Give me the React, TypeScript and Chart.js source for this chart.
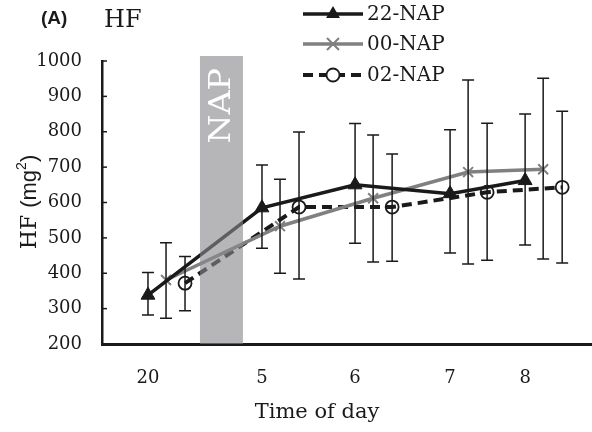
import { useEffect, useRef } from 'react';
import { Chart, registerables } from 'chart.js';

Chart.register(...registerables);

// ---- data ----
const timeLabels = ['20', '5', '6', '7', '8'];
const timePositions = [0, 1.2, 2.18, 3.18, 3.97];
const seriesNames = ['22-NAP', '00-NAP', '02-NAP'];
const seriesOffsets = [0, 0.19, 0.39];

const nap22Mean = [338, 585, 650, 625, 662];
const nap22Upper = [402, 706, 823, 806, 850];
const nap22Lower = [282, 471, 485, 457, 480];

const nap00Mean = [381, 533, 612, 686, 694];
const nap00Upper = [486, 666, 791, 946, 951];
const nap00Lower = [273, 400, 432, 426, 440];

const nap02Mean = [372, 587, 587, 629, 643];
const nap02Upper = [447, 799, 737, 824, 858];
const nap02Lower = [294, 384, 434, 437, 429];

const napWindow = [0.547, 1.0];
const yMin = 200;
const yMax = 1000;
const yStep = 100;

const SERIF = '"DejaVu Serif", "Liberation Serif", serif';
const SANS = '"Liberation Sans", Arial, sans-serif';
const INK = '#1a1a1a';
const GREY = '#808080';

const means = [nap22Mean, nap00Mean, nap02Mean];
const uppers = [nap22Upper, nap00Upper, nap02Upper];
const lowers = [nap22Lower, nap00Lower, nap02Lower];

function drawMarker(ctx: CanvasRenderingContext2D, kind: number, cx: number, cy: number) {
  ctx.save();
  ctx.setLineDash([]);
  if (kind === 0) {
    const r = 8;
    ctx.fillStyle = INK;
    ctx.beginPath();
    ctx.moveTo(cx, cy - r);
    ctx.lineTo(cx + r * 0.87, cy + r * 0.5);
    ctx.lineTo(cx - r * 0.87, cy + r * 0.5);
    ctx.closePath();
    ctx.fill();
  } else if (kind === 1) {
    const r = 6;
    ctx.strokeStyle = GREY;
    ctx.lineWidth = 2;
    ctx.beginPath();
    ctx.moveTo(cx - r, cy - r);
    ctx.lineTo(cx + r, cy + r);
    ctx.moveTo(cx - r, cy + r);
    ctx.lineTo(cx + r, cy - r);
    ctx.stroke();
  } else {
    ctx.strokeStyle = INK;
    ctx.lineWidth = 1.8;
    ctx.fillStyle = '#fff';
    ctx.beginPath();
    ctx.arc(cx, cy, 6.5, 0, Math.PI * 2);
    ctx.fill();
    ctx.stroke();
  }
  ctx.restore();
}

const overlayPlugin = {
  id: 'overlay',
  afterDatasetsDraw(chart: any) {
    const { ctx, chartArea, scales } = chart;
    const x = scales.x;
    const y = scales.y;
    ctx.save();
    // error bars
    ctx.strokeStyle = INK;
    ctx.lineWidth = 1.5;
    for (let s = 0; s < 3; s++) {
      for (let i = 0; i < timePositions.length; i++) {
        const px = x.getPixelForValue(timePositions[i] + seriesOffsets[s]);
        const pu = y.getPixelForValue(uppers[s][i]);
        const pl = y.getPixelForValue(lowers[s][i]);
        ctx.beginPath();
        ctx.moveTo(px, pu);
        ctx.lineTo(px, pl);
        ctx.moveTo(px - 6, pu);
        ctx.lineTo(px + 6, pu);
        ctx.moveTo(px - 6, pl);
        ctx.lineTo(px + 6, pl);
        ctx.stroke();
      }
    }
    // y tick marks (inside)
    ctx.lineWidth = 1.5;
    for (let v = yMin; v <= yMax; v += yStep) {
      const py = y.getPixelForValue(v);
      ctx.beginPath();
      ctx.moveTo(chartArea.left, py);
      ctx.lineTo(chartArea.left + 5, py);
      ctx.stroke();
    }
    // NAP band
    const bx0 = x.getPixelForValue(napWindow[0]);
    const bx1 = x.getPixelForValue(napWindow[1]);
    ctx.fillStyle = 'rgba(137,137,142,0.62)';
    ctx.fillRect(bx0, chartArea.top - 5, bx1 - bx0, chartArea.bottom - chartArea.top + 5);
    ctx.translate((bx0 + bx1) / 2, chartArea.top + 7);
    ctx.rotate(-Math.PI / 2);
    ctx.scale(1.15, 1);
    ctx.fillStyle = '#ffffff';
    ctx.font = '29px ' + SERIF;
    ctx.textAlign = 'right';
    ctx.textBaseline = 'middle';
    ctx.fillText('NAP', 0, 1);
    ctx.restore();
  },
  afterDraw(chart: any) {
    const { ctx } = chart;
    ctx.save();
    // panel label & title
    ctx.fillStyle = INK;
    ctx.textBaseline = 'middle';
    ctx.textAlign = 'left';
    ctx.font = 'bold 19px ' + SANS;
    ctx.fillText('(A)', 41, 19);
    ctx.font = '24px ' + SERIF;
    ctx.fillText('HF', 104, 21);

    // x axis title
    ctx.textAlign = 'center';
    ctx.font = '21px ' + SERIF;
    ctx.fillText('Time of day', 317, 413);

    // legend
    const rows = [14, 44, 75];
    for (let s = 0; s < 3; s++) {
      const ly = rows[s];
      ctx.save();
      ctx.lineWidth = s === 2 ? 4 : 3.5;
      ctx.strokeStyle = s === 1 ? GREY : INK;
      ctx.setLineDash(s === 2 ? [10, 6] : []);
      ctx.beginPath();
      ctx.moveTo(303, ly);
      ctx.lineTo(363, ly);
      ctx.stroke();
      ctx.restore();
      drawMarker(ctx, s, 333, ly);
      ctx.fillStyle = INK;
      ctx.font = '20px ' + SERIF;
      ctx.textAlign = 'left';
      ctx.textBaseline = 'middle';
      ctx.fillText(seriesNames[s], 367, ly + 1);
    }

    // y axis title: HF (mg²)
    const parts = [
      { t: 'HF ', f: '22px ' + SERIF, dy: 0 },
      { t: '(mg', f: '22px ' + SANS, dy: 0 },
      { t: '2', f: '14px ' + SANS, dy: -8 },
      { t: ')', f: '22px ' + SANS, dy: 0 },
    ];
    let total = 0;
    for (const p of parts) {
      ctx.font = p.f;
      total += ctx.measureText(p.t).width;
    }
    ctx.translate(30, 202);
    ctx.rotate(-Math.PI / 2);
    let cx = -total / 2;
    ctx.textAlign = 'left';
    ctx.textBaseline = 'middle';
    for (const p of parts) {
      ctx.font = p.f;
      ctx.fillText(p.t, cx, p.dy);
      cx += ctx.measureText(p.t).width;
    }
    ctx.restore();
  },
};

export default function App() {
  const ref = useRef<HTMLCanvasElement | null>(null);
  useEffect(() => {
    document.body.style.margin = '0';
    const canvas = ref.current;
    if (!canvas) return;
    const styles = [
      { color: INK, width: 3.5, dash: [] as number[], point: 'triangle', radius: 8, bg: INK, pbw: 1 },
      { color: GREY, width: 3.5, dash: [] as number[], point: 'crossRot', radius: 7, bg: GREY, pbw: 2 },
      { color: INK, width: 4, dash: [10, 6], point: 'circle', radius: 6.5, bg: 'rgba(0,0,0,0)', pbw: 1.8 },
    ];
    const datasets = seriesNames.map((name, s) => ({
      label: name,
      data: means[s].map((v, i) => ({ x: timePositions[i] + seriesOffsets[s], y: v })),
      showLine: true,
      borderColor: styles[s].color,
      borderWidth: styles[s].width,
      borderDash: styles[s].dash,
      pointStyle: styles[s].point as any,
      pointRadius: styles[s].radius,
      pointBackgroundColor: styles[s].bg,
      pointBorderColor: styles[s].color,
      pointBorderWidth: styles[s].pbw,
      tension: 0,
      clip: false as any,
    }));
    const chart = new Chart(canvas, {
      type: 'scatter',
      data: { datasets },
      options: {
        animation: false,
        responsive: false,
        layout: { autoPadding: false, padding: { top: 61, right: 0, left: 0, bottom: 0 } },
        plugins: { legend: { display: false }, tooltip: { enabled: false } },
        scales: {
          x: {
            type: 'linear',
            min: -0.484,
            max: 4.674,
            grid: { display: false, drawTicks: false },
            border: { display: true, color: INK, width: 3 },
            afterBuildTicks: (scale: any) => {
              scale.ticks = timePositions.map((v) => ({ value: v }));
            },
            afterFit: (scale: any) => {
              scale.height = 88;
              scale.paddingLeft = 0;
              scale.paddingRight = 0;
            },
            ticks: {
              autoSkip: false,
              maxRotation: 0,
              padding: 24,
              color: INK,
              font: { family: SERIF, size: 18 },
              callback: (_v: any, i: number) => timeLabels[i],
            },
          },
          y: {
            min: yMin,
            max: yMax,
            grid: { display: false, drawTicks: false },
            border: { display: true, color: INK, width: 2.5 },
            afterFit: (scale: any) => {
              scale.width = 102;
            },
            ticks: {
              stepSize: yStep,
              padding: 20,
              color: INK,
              font: { family: SERIF, size: 18 },
              callback: (v: any) => String(v),
            },
          },
        },
      },
      plugins: [overlayPlugin],
    });
    return () => chart.destroy();
  }, []);
  return <canvas ref={ref} width={592} height={432} style={{ display: 'block' }} />;
}
